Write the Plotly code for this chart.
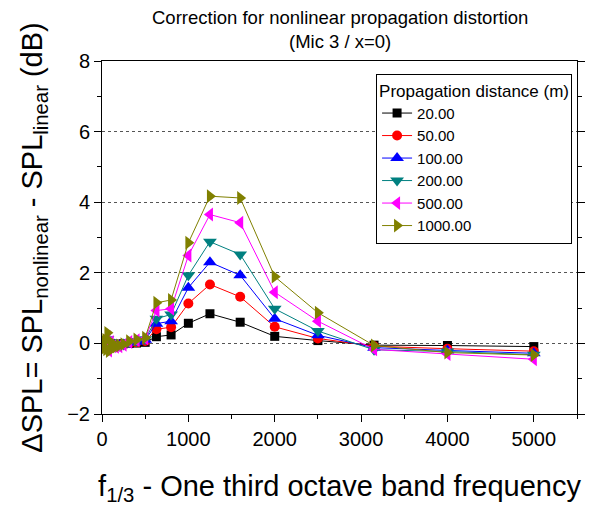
import plotly.graph_objects as go

# One-third octave band centre frequencies (Hz)
freqs = [25, 31.5, 40, 50, 63, 80, 100, 125, 160, 200, 250, 315, 400, 500,
         630, 800, 1000, 1250, 1600, 2000, 2500, 3150, 4000, 5000]

# Correction dSPL (dB) per propagation distance
d20 = [0.0, -0.02, 0.01, -0.03, 0.02, -0.04, 0.0, -0.02, -0.03, -0.02, -0.01, 0.0, 0.01, 0.03,
       0.19, 0.24, 0.57, 0.84, 0.60, 0.20, 0.08, -0.05, -0.06, -0.09]
d50 = [0.01, -0.04, 0.03, -0.06, 0.05, -0.08, 0.01, -0.04, -0.06, -0.04, -0.02, 0.01, 0.03, 0.07,
       0.40, 0.46, 1.13, 1.67, 1.32, 0.47, 0.14, -0.08, -0.15, -0.22]
d100 = [0.02, -0.06, 0.05, -0.09, 0.08, -0.12, 0.02, -0.05, -0.08, -0.06, -0.03, 0.02, 0.05, 0.10,
        0.56, 0.63, 1.58, 2.30, 1.93, 0.70, 0.23, -0.12, -0.20, -0.28]
d200 = [0.03, -0.08, 0.07, -0.12, 0.12, -0.16, 0.03, -0.06, -0.09, -0.07, -0.03, 0.03, 0.07, 0.12,
        0.70, 0.82, 1.93, 2.88, 2.52, 0.98, 0.35, -0.18, -0.23, -0.32]
d500 = [0.04, -0.10, 0.09, -0.15, 0.18, -0.20, 0.04, -0.08, -0.10, -0.08, -0.04, 0.04, 0.09, 0.14,
        0.93, 0.98, 2.49, 3.65, 3.42, 1.45, 0.63, -0.17, -0.30, -0.45]
d1000 = [0.05, -0.12, 0.10, -0.17, 0.30, -0.22, 0.05, -0.07, -0.09, -0.06, -0.02, 0.06, 0.11, 0.16,
         1.15, 1.23, 2.85, 4.17, 4.12, 1.89, 0.87, -0.06, -0.26, -0.33]

series_names = ["20.00", "50.00", "100.00", "200.00", "500.00", "1000.00"]
series_values = [d20, d50, d100, d200, d500, d1000]
colors = ["#000000", "#ff0000", "#0000ff", "#008080", "#ff00ff", "#808000"]
symbols = ["square", "circle", "triangle-up", "triangle-down", "triangle-left", "triangle-right"]
marker_sizes = [9, 10, 12, 12, 12, 12]

title_lines = ["Correction for nonlinear propagation distortion", "(Mic 3 / x=0)"]

fig = go.Figure()
for name, vals, col, sym, ms in zip(series_names, series_values, colors, symbols, marker_sizes):
    fig.add_trace(go.Scatter(
        x=freqs, y=vals, name=name, mode="lines+markers",
        line=dict(color=col, width=1),
        marker=dict(symbol=sym, size=ms, color=col),
    ))

font_family = "Liberation Sans, Arial, sans-serif"

# two-line chart title, placed above the plotting area
for line, ypos in zip(title_lines, [1.122, 1.054]):
    fig.add_annotation(text=line, x=0.5, xref="paper", y=ypos, yref="paper",
                       xanchor="center", yanchor="middle", showarrow=False,
                       font=dict(size=18.5))

fig.update_layout(
    width=597, height=515,
    margin=dict(l=102, r=12, t=61, b=101),
    paper_bgcolor="white", plot_bgcolor="white",
    font=dict(family=font_family, color="black"),
    showlegend=True,
    legend=dict(
        title=dict(text="Propagation distance (m)", font=dict(size=17)),
        x=0.577, y=0.964, xanchor="left", yanchor="top",
        bordercolor="black", borderwidth=1, bgcolor="white",
        font=dict(size=15), tracegroupgap=0, itemwidth=30,
    ),
    xaxis=dict(
        range=[0, 5500], tickvals=[0, 1000, 2000, 3000, 4000, 5000],
        ticks="outside", ticklen=7, tickwidth=1, tickcolor="black",
        showline=True, linecolor="black", linewidth=1, mirror=True,
        showgrid=False, zeroline=False,
        tickfont=dict(size=20),
        minor=dict(dtick=500, tick0=0, ticks="outside", ticklen=4, tickcolor="black"),
        title=dict(text="f<sub>1/3</sub> - One third octave band frequency",
                   font=dict(size=29), standoff=26),
    ),
    yaxis=dict(
        range=[-2, 8], tickvals=[-2, 0, 2, 4, 6, 8],
        ticks="outside", ticklen=7, tickwidth=1, tickcolor="black",
        showline=True, linecolor="black", linewidth=1, mirror="ticks",
        showgrid=True, gridcolor="#555555", griddash="dot", gridwidth=1,
        zeroline=False,
        tickfont=dict(size=20),
        minor=dict(dtick=1, tick0=0, ticks="outside", ticklen=4, tickcolor="black"),
        title=dict(text="ΔSPL= SPL<sub>nonlinear</sub> - SPL<sub>linear</sub> (dB)",
                   font=dict(size=29), standoff=16),
    ),
)

fig.write_html("out.html")
